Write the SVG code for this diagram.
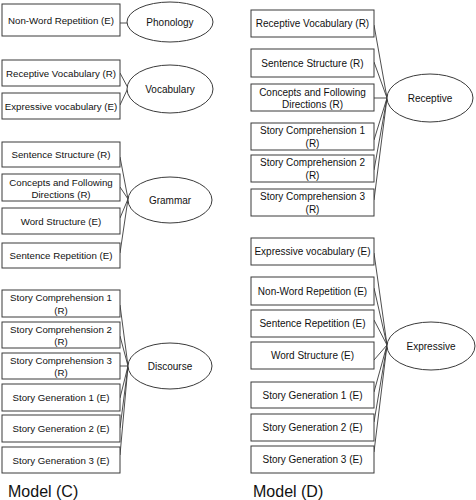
<svg xmlns="http://www.w3.org/2000/svg" width="476" height="500" viewBox="0 0 476 500">
<style>
rect{fill:#fff;stroke:#3a3a3a;stroke-width:1}
ellipse{fill:#fff;stroke:#3a3a3a;stroke-width:1}
.c line{stroke:#3a3a3a;stroke-width:0.9}
text{font-family:"Liberation Sans",Arial,sans-serif;fill:#111;text-anchor:middle}
.l text{font-size:9.7px}
.r text{font-size:10px}
.e text{font-size:10px}
.m{font-size:16px;text-anchor:start}
</style>
<rect x="0" y="0" width="476" height="500" style="fill:#fff;stroke:none"/>
<g class="c" id="connectors">
<line x1="120" y1="23" x2="127" y2="23"/>
<line x1="120" y1="73" x2="128" y2="88"/>
<line x1="120" y1="105" x2="128" y2="88"/>
<line x1="120" y1="157" x2="128" y2="199"/>
<line x1="120" y1="187" x2="128" y2="199"/>
<line x1="120" y1="218" x2="128" y2="199"/>
<line x1="120" y1="253" x2="128" y2="199"/>
<line x1="120" y1="305" x2="128" y2="366"/>
<line x1="120" y1="336" x2="128" y2="366"/>
<line x1="120" y1="366" x2="128" y2="366"/>
<line x1="120" y1="398" x2="128" y2="366"/>
<line x1="120" y1="428" x2="128" y2="366"/>
<line x1="120" y1="455" x2="128" y2="366"/>
<line x1="374" y1="25" x2="387" y2="98"/>
<line x1="374" y1="62" x2="387" y2="98"/>
<line x1="374" y1="98" x2="387" y2="98"/>
<line x1="374" y1="140" x2="387" y2="98"/>
<line x1="374" y1="170" x2="387" y2="98"/>
<line x1="374" y1="200" x2="387" y2="98"/>
<line x1="374" y1="253" x2="387" y2="345"/>
<line x1="374" y1="288" x2="387" y2="345"/>
<line x1="374" y1="320" x2="387" y2="345"/>
<line x1="374" y1="360" x2="387" y2="345"/>
<line x1="374" y1="392" x2="387" y2="345"/>
<line x1="374" y1="422" x2="387" y2="345"/>
<line x1="374" y1="452" x2="387" y2="345"/>
</g>
<g class="l">
<g id="c-nwr"><rect x="2" y="4" width="118" height="32"/><text x="61" y="23.5">Non-Word Repetition (E)</text></g>
<g id="c-rv"><rect x="2" y="60" width="118" height="26"/><text x="61" y="76.5">Receptive Vocabulary (R)</text></g>
<g id="c-ev"><rect x="2" y="93" width="118" height="26"/><text x="61" y="109.5">Expressive vocabulary (E)</text></g>
<g id="c-ss"><rect x="2" y="142" width="118" height="25"/><text x="61" y="158">Sentence Structure (R)</text></g>
<g id="c-cfd"><rect x="2" y="174" width="118" height="27"/><text x="61" y="185.5">Concepts and Following</text><text x="61" y="197.5">Directions (R)</text></g>
<g id="c-ws"><rect x="2" y="208" width="118" height="26"/><text x="61" y="224.5">Word Structure (E)</text></g>
<g id="c-sr"><rect x="2" y="243" width="118" height="25"/><text x="61" y="259">Sentence Repetition (E)</text></g>
<g id="c-sc1"><rect x="2" y="290" width="118" height="27"/><text x="61" y="301">Story Comprehension 1</text><text x="61" y="313.5">(R)</text></g>
<g id="c-sc2"><rect x="2" y="322" width="118" height="26"/><text x="61" y="332.5">Story Comprehension 2</text><text x="61" y="345">(R)</text></g>
<g id="c-sc3"><rect x="2" y="353" width="118" height="26"/><text x="61" y="363.5">Story Comprehension 3</text><text x="61" y="376">(R)</text></g>
<g id="c-sg1"><rect x="2" y="384" width="118" height="27"/><text x="61" y="401">Story Generation 1 (E)</text></g>
<g id="c-sg2"><rect x="2" y="415" width="118" height="27"/><text x="61" y="432">Story Generation 2 (E)</text></g>
<g id="c-sg3"><rect x="2" y="447" width="118" height="26"/><text x="61" y="463.5">Story Generation 3 (E)</text></g>
</g>
<g class="r">
<g id="d-rv"><rect x="251" y="10" width="123" height="27"/><text x="312.5" y="27">Receptive Vocabulary (R)</text></g>
<g id="d-ss"><rect x="251" y="49" width="123" height="28"/><text x="312.5" y="66.5">Sentence Structure (R)</text></g>
<g id="d-cfd"><rect x="251" y="84" width="123" height="27"/><text x="312.5" y="95.5">Concepts and Following</text><text x="312.5" y="108">Directions (R)</text></g>
<g id="d-sc1"><rect x="251" y="123" width="123" height="27"/><text x="312.5" y="134">Story Comprehension 1</text><text x="312.5" y="146.5">(R)</text></g>
<g id="d-sc2"><rect x="251" y="155" width="123" height="27"/><text x="312.5" y="166">Story Comprehension 2</text><text x="312.5" y="178.5">(R)</text></g>
<g id="d-sc3"><rect x="251" y="189" width="123" height="27"/><text x="312.5" y="200">Story Comprehension 3</text><text x="312.5" y="212.5">(R)</text></g>
<g id="d-ev"><rect x="251" y="238" width="123" height="27"/><text x="312.5" y="255">Expressive vocabulary (E)</text></g>
<g id="d-nwr"><rect x="251" y="277" width="123" height="28"/><text x="312.5" y="294.5">Non-Word Repetition (E)</text></g>
<g id="d-sr"><rect x="251" y="310" width="123" height="27"/><text x="312.5" y="327">Sentence Repetition (E)</text></g>
<g id="d-ws"><rect x="251" y="342" width="123" height="27"/><text x="312.5" y="359">Word Structure (E)</text></g>
<g id="d-sg1"><rect x="251" y="382" width="123" height="26"/><text x="312.5" y="398.5">Story Generation 1 (E)</text></g>
<g id="d-sg2"><rect x="251" y="414" width="123" height="27"/><text x="312.5" y="431">Story Generation 2 (E)</text></g>
<g id="d-sg3"><rect x="251" y="446" width="123" height="27"/><text x="312.5" y="463">Story Generation 3 (E)</text></g>
</g>
<g class="e">
<g id="phonology"><ellipse cx="170" cy="22" rx="43" ry="20"/><text x="170" y="25.5">Phonology</text></g>
<g id="vocabulary"><ellipse cx="170" cy="89" rx="43" ry="24"/><text x="170" y="92.5">Vocabulary</text></g>
<g id="grammar"><ellipse cx="170" cy="200" rx="42" ry="23"/><text x="170" y="203.5">Grammar</text></g>
<g id="discourse"><ellipse cx="170" cy="366" rx="42" ry="23"/><text x="170" y="369.5">Discourse</text></g>
<g id="receptive"><ellipse cx="430" cy="98" rx="43" ry="24"/><text x="430" y="101.5">Receptive</text></g>
<g id="expressive"><ellipse cx="431" cy="346" rx="44" ry="24"/><text x="431" y="349.5">Expressive</text></g>
</g>
<text class="m" x="8" y="497">Model (C)</text>
<text class="m" x="253" y="497">Model (D)</text>
</svg>
